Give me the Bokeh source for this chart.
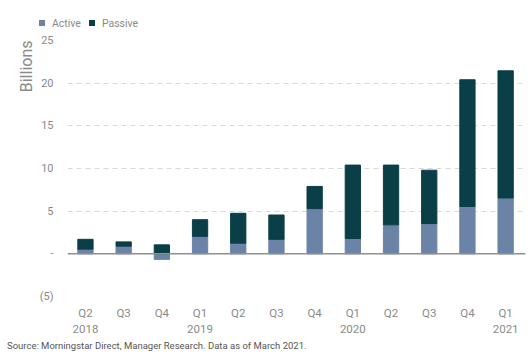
from bokeh.plotting import figure
from bokeh.layouts import column
from bokeh.models import (Range1d, FixedTicker, Span, Title, ColumnDataSource, Div)
from bokeh.embed import file_html
from bokeh.resources import INLINE
import numpy as np

# ---- data (billions USD) ----
quarters = ["Q2", "Q3", "Q4", "Q1", "Q2", "Q3", "Q4", "Q1", "Q2", "Q3", "Q4", "Q1"]
years = ["2018", "", "", "2019", "", "", "", "2020", "", "", "", "2021"]
active = [0.55, 0.9, -0.65, 2.05, 1.25, 1.7, 5.3, 1.8, 3.4, 3.55, 5.55, 6.55]
passive = [1.15, 0.5, 1.05, 1.95, 3.5, 2.85, 2.6, 8.6, 7.0, 6.25, 14.85, 14.9]
series_names = ["Active", "Passive"]
y_ticks = [-5, 0, 5, 10, 15, 20, 25]
y_tick_labels = ["(5)", "-", "5", "10", "15", "20", "25"]
source_note = "Source: Morningstar Direct, Manager Research. Data as of March 2021."

ACTIVE_C = "#6a83a7"
PASSIVE_C = "#0b3f47"
TXT = "#8a8a8a"
FONT = "Roboto"

idx = np.arange(len(quarters))
act = np.array(active)
pas = np.array(passive)
pas_bottom = np.maximum(act, 0)
src = ColumnDataSource(dict(x=idx, act=act, pb=pas_bottom, pt=pas_bottom + pas))

# ---- legend (HTML, above the chart) ----
def swatch(color):
    return ('<span style="display:inline-block;width:6px;height:6px;background:%s;'
            'margin-right:7px;vertical-align:middle;position:relative;top:-1px"></span>' % color)

legend_html = (swatch(ACTIVE_C) + '<span style="vertical-align:middle">%s</span>' % series_names[0]
               + '<span style="display:inline-block;width:8px"></span>'
               + swatch(PASSIVE_C) + '<span style="vertical-align:middle">%s</span>' % series_names[1])
legend_div = Div(text=legend_html, width=300, height=30, margin=(0, 0, 0, 39),
                 styles={"font-family": FONT, "font-size": "10.5px", "color": TXT,
                         "line-height": "12px", "padding-top": "18px",
                         "white-space": "nowrap"})

p = figure(width=526, height=309, output_backend="svg", toolbar_location=None,
           x_range=Range1d(-0.47, 11.52), y_range=Range1d(-5, 25),
           min_border_left=67, min_border_right=1, min_border_top=10,
           min_border_bottom=43)
p.outline_line_color = None
p.background_fill_color = "white"
p.border_fill_color = "white"

p.vbar(x="x", bottom=0, top="act", width=0.4, color=ACTIVE_C, source=src)
p.vbar(x="x", bottom="pb", top="pt", width=0.4, color=PASSIVE_C, source=src)

p.add_layout(Span(location=0, dimension="width", line_color="#909090", line_width=1.5))

# axes
p.xaxis.ticker = FixedTicker(ticks=list(idx))
p.xaxis.major_label_overrides = {int(i): (q + ("\n" + y if y else ""))
                                 for i, q, y in zip(idx, quarters, years)}
p.yaxis.ticker = FixedTicker(ticks=y_ticks)
p.yaxis.major_label_overrides = {t: l for t, l in zip(y_ticks, y_tick_labels)}
for ax in (p.xaxis, p.yaxis):
    ax.axis_line_color = None
    ax.major_tick_line_color = None
    ax.minor_tick_line_color = None
    ax.major_label_text_color = TXT
    ax.major_label_text_font = FONT
    ax.major_label_text_font_size = "11px"
p.xaxis.major_label_text_font_size = "11.5px"
p.xaxis.major_label_standoff = 3
p.yaxis.major_label_standoff = 8

p.xgrid.grid_line_color = None
p.ygrid.ticker = FixedTicker(ticks=[t for t in y_ticks if t != 0])
p.ygrid.grid_line_color = "#d9d9d9"
p.ygrid.grid_line_dash = "5 4"
p.ygrid.grid_line_width = 1

# y label at the top of the left side
ylab = Title(text="Billions", align="right", text_font=FONT, text_font_size="16px",
             text_color=TXT, text_font_style="normal", standoff=1)
p.add_layout(ylab, "left")

note = Div(text=source_note, width=520, height=14, margin=(1, 0, 0, 7),
           styles={"font-family": FONT, "font-size": "9.5px", "color": "#555555",
                   "line-height": "12px", "white-space": "nowrap"})

layout = column(legend_div, p, note, spacing=0)
open("out.html", "w").write(file_html(layout, INLINE))
